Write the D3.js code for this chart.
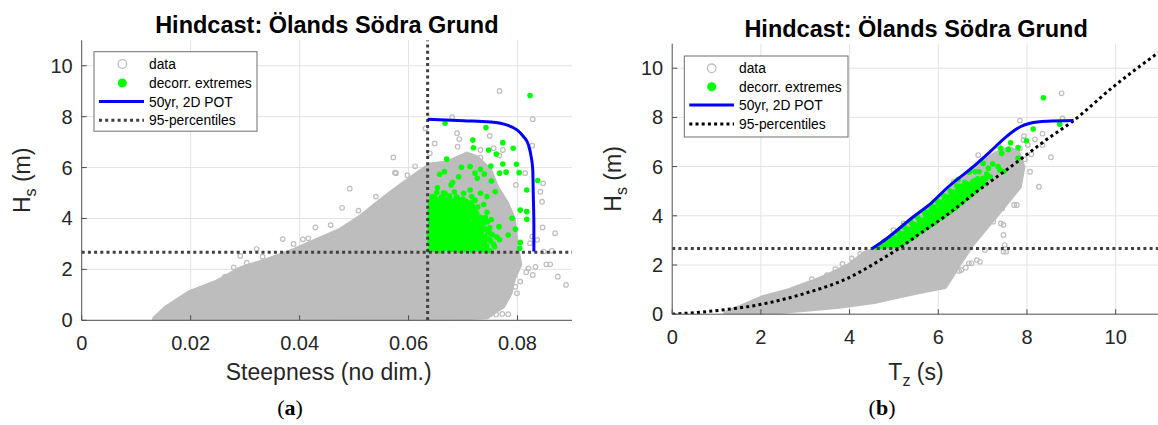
<!DOCTYPE html>
<html>
<head>
<meta charset="utf-8">
<script src="https://cdn.jsdelivr.net/npm/d3@7"></script>
<style>
  html, body { margin: 0; padding: 0; background: #fff; }
  svg { display: block; font-family: "Liberation Sans", Arial, sans-serif; }
</style>
</head>
<body>
<svg id="fig" width="1158" height="425"></svg>
<script>
// ---------- shared ----------
const titleText = "Hindcast: Ölands Södra Grund";
const legendLabels = ["data", "decorr. extremes", "50yr, 2D POT", "95-percentiles"];
const hsTicks = [0, 2, 4, 6, 8, 10];
const hs95 = 2.67;

// ---------- panel (a): steepness vs Hs ----------
const steepTicks = [0, 0.02, 0.04, 0.06, 0.08];
const steepTickLabels = ["0", "0.02", "0.04", "0.06", "0.08"];
const steep95 = 0.0635;

// outline of the dense part of the hindcast cloud
const cloudA = [[0.0133,0.0],[0.0134,0.10],[0.0156,0.53],[0.0199,1.12],[0.0248,1.52],[0.0291,2.04],
  [0.0340,2.37],[0.0389,2.76],[0.0432,3.16],[0.0474,3.55],[0.0511,4.07],[0.0548,4.70],[0.0585,5.30],
  [0.0621,5.85],[0.0640,6.12],[0.0670,6.20],[0.0707,6.55],[0.0726,6.40],[0.0750,5.90],[0.0762,5.25],
  [0.0781,4.60],[0.0793,4.00],[0.0799,2.90],[0.0805,2.20],[0.0793,1.60],[0.0787,1.06],[0.0774,0.55],
  [0.0756,0.30],[0.0745,0.12],[0.0680,0.06],[0.0600,0.02],[0.0200,0.0]];

// individual hindcast states outside the dense cloud
const dataA = [[0.0767,9.01],[0.0828,7.90],[0.0680,7.98],[0.0631,7.54],[0.0689,7.35],[0.0693,7.12],
  [0.0749,7.24],[0.0648,6.95],[0.0690,6.82],[0.0827,6.86],[0.0572,6.40],[0.0639,6.56],[0.0756,6.76],
  [0.0773,6.69],[0.0814,5.78],[0.0847,5.38],[0.0842,5.05],[0.0845,4.66],[0.0797,5.32],[0.0817,4.27],
  [0.0577,5.78],[0.0846,3.65],[0.0836,3.16],[0.0869,3.42],[0.0848,2.70],[0.0863,2.73],[0.0833,2.10],
  [0.0853,2.20],[0.0860,2.20],[0.0874,1.71],[0.0889,1.39],[0.0828,1.78],[0.0816,1.89],[0.0820,2.04],
  [0.0805,1.52],[0.0799,1.06],[0.0781,0.93],[0.0796,1.32],[0.0767,6.47],[0.0732,6.39],[0.0732,6.69],
  [0.0823,3.03],[0.0827,3.29],[0.0492,5.17],[0.0478,4.42],[0.0508,4.31],[0.0540,4.86],[0.0429,3.65],
  [0.0406,3.18],[0.0369,3.19],[0.0416,3.22],[0.0457,3.74],[0.0321,2.80],[0.0291,2.53],[0.0279,2.08],
  [0.0303,2.26],[0.0389,3.00],[0.0332,2.50],[0.0263,1.71],[0.0575,5.80],[0.0598,5.70],[0.0612,6.05],
  [0.0660,0.24],[0.0672,0.27],[0.0684,0.23],[0.0695,0.26],[0.0707,0.22],[0.0718,0.25],[0.0729,0.28],
  [0.0740,0.24],[0.0751,0.26],[0.0761,0.23],[0.0772,0.25],[0.0783,0.24],[0.0135,0.05],[0.0148,0.30]];

// decorrelated extremes above both 95-percentiles
const extA = [[0.0823,8.83],[0.0667,7.74],[0.0742,7.57],[0.0718,7.08],[0.0773,6.98],[0.0719,6.78],
  [0.0747,6.69],[0.0792,6.76],[0.0761,6.53],[0.0670,6.33],[0.0798,6.13],[0.0697,6.01],[0.0713,6.04],
  [0.0751,6.06],[0.0773,6.14],[0.0732,5.93],[0.0722,5.78],[0.0739,5.75],[0.0767,5.78],[0.0779,5.82],
  [0.0803,5.80],[0.0837,5.49],[0.0657,5.74],[0.0666,5.84],[0.0692,5.64],[0.0726,5.58],[0.0752,5.47],
  [0.0681,5.41],[0.0678,5.32],[0.0713,5.12],[0.0653,5.21],[0.0817,5.12],[0.0759,5.05],[0.0664,5.01],
  [0.0701,4.99],[0.0732,4.99],[0.0744,4.86],[0.0643,4.86],[0.0805,4.33],[0.0817,4.27],[0.0790,4.01],
  [0.0817,3.97],[0.0796,3.58],[0.0805,3.06],[0.0804,2.83],[0.0767,3.16],[0.0783,3.35],[0.0756,2.99],
  [0.0638,2.74],[0.0646,2.78],[0.0657,2.73],[0.0664,2.80],[0.0675,2.75],[0.0683,2.79],[0.0694,2.73],
  [0.0702,2.77],[0.0716,2.74],[0.0724,2.81],[0.0737,2.76],[0.0749,2.73],
  [0.0641,2.92],[0.0652,2.88],[0.0661,2.95],[0.0670,2.90],[0.0679,2.97],[0.0689,2.89],[0.0698,2.94],
  [0.0709,2.91],[0.0720,2.96],[0.0731,2.88],[0.0744,2.93],[0.0758,2.89],
  [0.0639,3.07],[0.0648,3.03],[0.0659,3.10],[0.0667,3.04],[0.0676,3.08],[0.0687,3.02],[0.0695,3.09],
  [0.0705,3.05],[0.0713,3.11],[0.0727,3.03],[0.0736,3.07],[0.0751,3.12],
  [0.0643,3.22],[0.0651,3.18],[0.0662,3.24],[0.0673,3.19],[0.0681,3.23],[0.0692,3.17],[0.0701,3.25],
  [0.0711,3.20],[0.0722,3.16],[0.0733,3.24],[0.0747,3.19],[0.0762,3.27],
  [0.0638,3.37],[0.0647,3.33],[0.0656,3.39],[0.0668,3.34],[0.0677,3.38],[0.0686,3.32],[0.0697,3.36],
  [0.0707,3.40],[0.0716,3.33],[0.0728,3.37],[0.0740,3.31],[0.0754,3.36],
  [0.0641,3.52],[0.0653,3.48],[0.0661,3.54],[0.0671,3.49],[0.0683,3.53],[0.0691,3.47],[0.0703,3.55],
  [0.0712,3.50],[0.0724,3.46],[0.0735,3.54],[0.0745,3.50],
  [0.0639,3.66],[0.0649,3.63],[0.0658,3.69],[0.0667,3.64],[0.0678,3.68],[0.0688,3.62],[0.0697,3.67],
  [0.0708,3.71],[0.0719,3.64],[0.0731,3.69],[0.0749,3.63],[0.0766,3.68],
  [0.0642,3.82],[0.0652,3.78],[0.0663,3.84],[0.0672,3.79],[0.0684,3.83],[0.0694,3.77],[0.0704,3.85],
  [0.0715,3.80],[0.0726,3.76],[0.0739,3.83],
  [0.0638,3.96],[0.0647,3.93],[0.0657,3.99],[0.0668,3.94],[0.0679,3.98],[0.0689,3.92],[0.0700,3.97],
  [0.0711,4.01],[0.0723,3.94],[0.0735,3.99],[0.0752,3.95],
  [0.0641,4.12],[0.0651,4.08],[0.0662,4.14],[0.0674,4.09],[0.0685,4.13],[0.0696,4.07],[0.0708,4.15],
  [0.0719,4.10],[0.0731,4.06],
  [0.0639,4.27],[0.0649,4.23],[0.0659,4.29],[0.0669,4.24],[0.0681,4.28],[0.0692,4.22],[0.0704,4.26],
  [0.0716,4.30],[0.0744,4.24],
  [0.0642,4.42],[0.0654,4.38],[0.0665,4.44],[0.0677,4.39],[0.0688,4.43],[0.0700,4.37],[0.0712,4.41],
  [0.0727,4.45],
  [0.0640,4.56],[0.0650,4.53],[0.0661,4.59],[0.0673,4.54],[0.0685,4.58],[0.0697,4.52],[0.0709,4.57],
  [0.0738,4.55],
  [0.0643,4.72],[0.0656,4.68],[0.0668,4.74],[0.0681,4.69],[0.0693,4.73],[0.0706,4.67],[0.0722,4.71],
  [0.0647,4.87],[0.0660,4.83],[0.0675,4.88],[0.0689,4.84],[0.0716,4.86],
  [0.0652,5.02],[0.0667,4.98],[0.0684,5.04],
  [0.0642,2.83],[0.0652,2.85],[0.0660,2.81],[0.0669,2.86],[0.0679,2.82],[0.0688,2.84],[0.0698,2.80],
  [0.0710,2.85],[0.0720,2.82],[0.0730,2.84],[0.0742,2.80],
  [0.0644,2.99],[0.0654,3.01],[0.0664,2.97],[0.0673,3.00],[0.0683,2.98],[0.0692,3.02],[0.0702,2.98],
  [0.0716,3.01],[0.0724,2.97],[0.0739,3.00],
  [0.0641,3.14],[0.0655,3.15],[0.0664,3.13],[0.0676,3.16],[0.0686,3.12],[0.0697,3.15],[0.0706,3.13],
  [0.0717,3.16],[0.0729,3.12],[0.0741,3.15],
  [0.0640,3.29],[0.0650,3.28],[0.0660,3.31],[0.0670,3.27],[0.0679,3.30],[0.0690,3.28],[0.0702,3.31],
  [0.0712,3.27],[0.0724,3.30],[0.0735,3.28],
  [0.0643,3.44],[0.0652,3.45],[0.0663,3.43],[0.0674,3.46],[0.0682,3.42],[0.0693,3.45],[0.0702,3.43],
  [0.0713,3.46],[0.0722,3.42],[0.0733,3.45],[0.0749,3.43],
  [0.0645,3.58],[0.0656,3.60],[0.0666,3.57],[0.0676,3.59],[0.0686,3.58],[0.0695,3.61],[0.0707,3.57],
  [0.0717,3.60],[0.0729,3.56],[0.0740,3.59],
  [0.0644,3.73],[0.0654,3.74],[0.0663,3.72],[0.0673,3.75],[0.0683,3.71],[0.0692,3.74],[0.0702,3.72],
  [0.0713,3.75],[0.0724,3.71],[0.0735,3.74],
  [0.0640,3.88],[0.0650,3.89],[0.0660,3.87],[0.0671,3.90],[0.0681,3.86],[0.0691,3.89],[0.0699,3.87],
  [0.0710,3.90],[0.0721,3.86],[0.0732,3.89],[0.0745,3.87],
  [0.0644,4.03],[0.0654,4.04],[0.0664,4.02],[0.0673,4.05],[0.0684,4.01],[0.0694,4.04],[0.0705,4.02],
  [0.0716,4.05],[0.0727,4.01],[0.0741,4.04],
  [0.0644,4.18],[0.0656,4.19],[0.0667,4.17],[0.0679,4.20],[0.0690,4.16],[0.0702,4.19],[0.0713,4.17],
  [0.0725,4.20],
  [0.0645,4.34],[0.0655,4.35],[0.0664,4.33],[0.0675,4.36],[0.0686,4.32],[0.0697,4.35],[0.0710,4.33],
  [0.0722,4.36],
  [0.0646,4.48],[0.0659,4.49],[0.0670,4.47],[0.0682,4.50],[0.0694,4.46],[0.0706,4.49],[0.0718,4.47],
  [0.0645,4.63],[0.0655,4.64],[0.0667,4.62],[0.0679,4.65],[0.0691,4.61],[0.0703,4.64],[0.0715,4.62],
  [0.0650,4.78],[0.0662,4.79],[0.0675,4.77],[0.0687,4.80],[0.0700,4.76]];

// 50-year environmental contour (steepness, Hs)
const contourA = [[0.0635,7.90],[0.0701,7.84],[0.0750,7.79],[0.0781,7.67],[0.0799,7.48],[0.0811,7.22],
  [0.0820,6.89],[0.0825,6.43],[0.0828,5.91],[0.0829,4.86],[0.0830,3.82],[0.0830,2.70]];

// ---------- panel (b): Tz vs Hs ----------
const tzTicks = [0, 2, 4, 6, 8, 10];

const cloudB = [[1.20,0.05],[1.60,0.35],[2.02,0.68],[2.63,0.98],[3.15,1.32],[3.53,1.60],[3.98,2.00],
  [4.35,2.50],[4.55,2.62],[5.00,3.22],[5.50,3.88],[6.00,4.62],[6.50,5.45],[6.90,6.05],[7.30,6.55],
  [7.60,6.75],[7.80,6.60],[7.92,6.00],[7.84,5.18],[7.54,4.51],[7.17,3.70],[6.79,2.88],[6.49,2.07],
  [6.26,1.40],[6.15,1.10],[5.44,0.85],[4.60,0.51],[3.77,0.30],[2.51,0.10],[1.43,0.02]];

const dataB = [[8.78,8.98],[7.84,7.87],[8.80,7.96],[8.35,7.34],[8.18,7.11],[7.93,7.24],[8.35,6.88],
  [8.54,6.38],[8.02,6.88],[8.07,5.79],[8.27,5.18],[7.71,4.44],[7.47,3.63],[7.41,3.69],[7.24,3.76],
  [7.47,3.22],[7.50,2.81],[7.47,2.54],[7.05,2.61],[6.87,2.20],[6.75,2.07],[6.62,1.89],[6.47,1.76],
  [7.84,6.74],[7.92,7.08],[7.77,4.44],[7.44,4.30],[6.69,2.07],[6.94,2.13],[6.52,1.80],[6.77,3.29],
  [7.53,2.54],[3.15,1.42],[3.49,1.59],[3.68,1.83],[3.84,2.04],[4.05,2.27],[4.24,2.45],[4.77,2.95],
  [4.99,3.42],[5.22,3.69],[6.35,5.39],[6.90,6.47],[7.36,6.84],[8.10,6.50],[7.95,6.30]];

const extB = [[8.37,8.80],[8.14,7.53],[8.74,7.72],[7.99,7.05],[7.63,6.97],[7.80,6.77],[7.41,6.74],
  [7.58,6.70],[7.43,6.54],[7.80,6.34],[7.01,6.13],[7.23,6.11],[7.13,5.93],[7.35,6.00],[7.47,5.79],
  [6.83,5.79],[6.92,5.79],[7.09,5.70],[7.01,5.52],[6.83,5.43],[7.17,5.59],[7.39,5.86],[6.94,5.25],
  [6.70,5.77],[6.45,5.48],[6.56,5.18],
  [4.62,2.71],[4.68,2.79],[4.78,2.73],[4.83,2.86],[4.80,2.97],[4.93,2.74],[4.97,2.88],[4.94,3.01],
  [4.99,3.13],[5.08,2.76],[5.12,2.91],[5.09,3.05],[5.13,3.19],[5.10,3.34],
  [5.23,2.94],[5.27,3.09],[5.24,3.22],[5.28,3.37],[5.25,3.51],[5.22,3.60],
  [5.38,3.11],[5.42,3.26],[5.39,3.41],[5.43,3.56],[5.40,3.70],[5.37,3.80],
  [5.53,3.29],[5.57,3.44],[5.54,3.58],[5.58,3.74],[5.55,3.89],[5.52,3.98],
  [5.68,3.46],[5.72,3.61],[5.69,3.77],[5.73,3.92],[5.70,4.07],[5.67,4.18],
  [5.83,3.64],[5.87,3.79],[5.84,3.95],[5.88,4.11],[5.85,4.26],[5.82,4.40],
  [5.98,3.83],[6.02,3.98],[5.99,4.14],[6.03,4.31],[6.00,4.47],[5.97,4.62],
  [6.13,4.01],[6.17,4.17],[6.14,4.34],[6.18,4.51],[6.15,4.67],[6.12,4.82],
  [6.28,4.21],[6.32,4.37],[6.29,4.54],[6.33,4.71],[6.30,4.88],[6.27,5.01],
  [6.43,4.41],[6.47,4.58],[6.44,4.75],[6.48,4.93],[6.45,5.08],[6.42,5.22],
  [6.58,4.63],[6.62,4.81],[6.59,4.98],[6.63,5.16],[6.60,5.35],
  [6.73,4.86],[6.77,5.03],[6.74,5.21],[6.78,5.39],
  [6.88,5.11],[6.92,5.29],[6.89,5.50],[7.03,5.31],[7.07,5.51],
  [4.72,2.75],[4.88,2.80],[4.90,2.93],[5.03,2.82],[5.05,2.97],[5.04,3.10],[5.18,2.84],[5.19,3.00],
  [5.20,3.14],[5.17,3.28],[5.33,3.02],[5.34,3.16],[5.32,3.31],[5.35,3.45],[5.48,3.18],[5.47,3.33],
  [5.49,3.49],[5.46,3.64],[5.62,3.37],[5.64,3.52],[5.61,3.67],[5.63,3.83],[5.77,3.55],[5.79,3.70],
  [5.76,3.86],[5.78,4.01],[5.75,4.15],[5.92,3.73],[5.94,3.89],[5.91,4.05],[5.93,4.21],[5.90,4.36],
  [6.07,3.92],[6.09,4.08],[6.06,4.24],[6.08,4.41],[6.05,4.56],[6.22,4.11],[6.24,4.27],[6.21,4.44],
  [6.23,4.61],[6.20,4.77],[6.37,4.31],[6.39,4.48],[6.36,4.65],[6.38,4.82],[6.35,4.97],[6.52,4.52],
  [6.54,4.70],[6.51,4.87],[6.53,5.05],[6.50,5.20],[6.67,4.75],[6.69,4.92],[6.66,5.10],[6.68,5.28],
  [6.82,4.98],[6.84,5.16],[6.81,5.34],[6.97,5.20],[6.99,5.40]];

const contourB = [[4.51,2.67],[4.69,2.88],[5.44,3.96],[5.86,4.55],[6.19,5.12],[6.79,6.00],[7.17,6.61],
  [7.55,7.24],[7.85,7.62],[8.07,7.76],[8.45,7.84],[9.05,7.87]];

// 95-percentile Hs as a function of Tz
const p95B = [[0,0],[1.12,0.17],[2.03,0.41],[3.00,0.85],[3.98,1.48],[4.69,2.20],[5.11,2.67],[5.44,3.09],
  [6.19,4.03],[6.94,5.08],[7.69,6.07],[8.45,7.11],[9.05,7.87],[9.95,9.25],[10.96,10.63]];

// ---------- drawing ----------
const svg = d3.select("#fig");
svg.append("rect").attr("width", 1158).attr("height", 425).attr("fill", "#fff");

const AXIS = "#4d4d4d", TICKTXT = "#262626", GRID = "#e3e3e3";
const GRAY = "#bdbdbd", GREEN = "#00ff00", BLUE = "#0000ff";
const DOTS = "3,3.2";

function panel(cfg) {
  const g = svg.append("g");
  const x = cfg.x, y = cfg.y;
  const [x0, x1] = x.range(), [y0, y1] = y.range();

  const clipId = "clip" + cfg.id;
  svg.append("defs").append("clipPath").attr("id", clipId)
    .append("rect").attr("x", x0).attr("y", y1).attr("width", x1 - x0).attr("height", y0 - y1);

  // grid
  g.append("g").selectAll("line").data(cfg.xTicks.filter(d => d > 0)).join("line")
    .attr("x1", d => x(d)).attr("x2", d => x(d)).attr("y1", y0).attr("y2", y1)
    .attr("stroke", GRID).attr("stroke-width", 1);
  g.append("g").selectAll("line").data(hsTicks.filter(d => d > 0)).join("line")
    .attr("x1", x0).attr("x2", x1).attr("y1", d => y(d)).attr("y2", d => y(d))
    .attr("stroke", GRID).attr("stroke-width", 1);

  const plot = g.append("g").attr("clip-path", `url(#${clipId})`);

  // dense cloud
  plot.append("path").datum(cfg.cloud)
    .attr("d", d3.line().x(d => x(d[0])).y(d => y(d[1])).curve(d3.curveLinearClosed))
    .attr("fill", GRAY).attr("stroke", GRAY).attr("stroke-width", 4).attr("stroke-linejoin", "round");

  // sparse data
  plot.append("g").selectAll("circle").data(cfg.data).join("circle")
    .attr("cx", d => x(d[0])).attr("cy", d => y(d[1])).attr("r", 2.3)
    .attr("fill", "none").attr("stroke", GRAY).attr("stroke-width", 1.2);

  // extremes
  plot.append("g").selectAll("circle").data(cfg.ext).join("circle")
    .attr("cx", d => x(d[0])).attr("cy", d => y(d[1])).attr("r", 2.8)
    .attr("fill", GREEN);

  // 95-percentile lines
  cfg.drawP95(plot);

  // 50-yr contour
  plot.append("path").datum(cfg.contour)
    .attr("d", d3.line().x(d => x(d[0])).y(d => y(d[1])).curve(d3.curveMonotoneX))
    .attr("fill", "none").attr("stroke", BLUE).attr("stroke-width", 3);

  // axes lines
  g.append("line").attr("x1", x0).attr("x2", x0).attr("y1", y0).attr("y2", y1)
    .attr("stroke", AXIS).attr("stroke-width", 1);
  g.append("line").attr("x1", x0).attr("x2", Math.min(x1, 1158)).attr("y1", y0).attr("y2", y0)
    .attr("stroke", AXIS).attr("stroke-width", 1);

  // ticks (inward)
  g.append("g").selectAll("line").data(cfg.xTicks).join("line")
    .attr("x1", d => x(d)).attr("x2", d => x(d)).attr("y1", y0).attr("y2", y0 - 5)
    .attr("stroke", AXIS);
  g.append("g").selectAll("line").data(hsTicks).join("line")
    .attr("x1", x0).attr("x2", x0 + 5).attr("y1", d => y(d)).attr("y2", d => y(d))
    .attr("stroke", AXIS);

  g.append("g").selectAll("text").data(cfg.xTicks).join("text")
    .attr("x", d => x(d)).attr("y", y0 + 29.5).attr("text-anchor", "middle")
    .attr("font-size", 20).attr("fill", TICKTXT).text((d, i) => cfg.xTickLabels[i]);
  g.append("g").selectAll("text").data(hsTicks).join("text")
    .attr("x", x0 - 9).attr("y", d => y(d) + 7).attr("text-anchor", "end")
    .attr("font-size", 20).attr("fill", TICKTXT).text(d => d);

  const cx = (x0 + x1) / 2;
  // title
  g.append("text").attr("x", cx).attr("y", y1 - 7).attr("text-anchor", "middle")
    .attr("font-size", 23.5).attr("font-weight", "bold").attr("fill", "#000").text(titleText);

  // x label
  const xl = g.append("text").attr("x", cfg.xLabelX).attr("y", 380).attr("text-anchor", "middle")
    .attr("font-size", 23).attr("fill", TICKTXT);
  cfg.xLabel(xl);

  // y label
  const yl = g.append("text")
    .attr("transform", `translate(${x0 - 51.5},${(y0 + y1) / 2}) rotate(-90)`)
    .attr("text-anchor", "middle").attr("font-size", 23).attr("fill", TICKTXT);
  yl.append("tspan").text("H");
  yl.append("tspan").attr("font-size", 16).attr("dy", 6).text("s");
  yl.append("tspan").attr("dy", -6).text(" (m)");

  // sub-figure tag
  const tag = g.append("text").attr("x", cfg.tagX).attr("y", 415).attr("text-anchor", "middle")
    .attr("font-family", "'Liberation Serif', 'DejaVu Serif', serif")
    .attr("font-size", 22).attr("fill", "#000");
  tag.append("tspan").text("(");
  tag.append("tspan").attr("font-weight", "bold").text(cfg.tag);
  tag.append("tspan").text(")");

  // legend
  const L = cfg.legend;
  const lg = g.append("g");
  lg.append("rect").attr("x", L.x).attr("y", L.y).attr("width", L.w).attr("height", L.h)
    .attr("fill", "#fff").attr("stroke", "#6e6e6e").attr("stroke-width", 1);
  legendLabels.forEach((lab, i) => {
    lg.append("text").attr("x", L.textX).attr("y", L.rowY[i] + 5).attr("font-size", 13.8)
      .attr("fill", "#000").text(lab);
  });
  lg.append("circle").attr("cx", L.symX).attr("cy", L.rowY[0]).attr("r", 4.3)
    .attr("fill", "none").attr("stroke", GRAY).attr("stroke-width", 1.3);
  lg.append("circle").attr("cx", L.symX).attr("cy", L.rowY[1]).attr("r", 4.5).attr("fill", GREEN);
  lg.append("line").attr("x1", L.lx0).attr("x2", L.lx1).attr("y1", L.rowY[2]).attr("y2", L.rowY[2])
    .attr("stroke", BLUE).attr("stroke-width", 3);
  lg.append("line").attr("x1", L.lx0).attr("x2", L.lx1).attr("y1", L.rowY[3]).attr("y2", L.rowY[3])
    .attr("stroke", cfg.p95Color).attr("stroke-width", 3).attr("stroke-dasharray", DOTS);
}

// panel (a)
const xA = d3.scaleLinear([0, 0.09], [81.7, 572]);
const yA = d3.scaleLinear([0, 11], [320.3, 40.3]);
panel({
  id: "A", x: xA, y: yA, xTicks: steepTicks, xTickLabels: steepTickLabels,
  cloud: cloudA, data: dataA, ext: extA, contour: contourA,
  p95Color: "#404040",
  drawP95: (p) => {
    p.append("line").attr("x1", xA(0)).attr("x2", xA(0.09)).attr("y1", yA(hs95)).attr("y2", yA(hs95))
      .attr("stroke", "#404040").attr("stroke-width", 3).attr("stroke-dasharray", DOTS);
    p.append("line").attr("x1", xA(steep95)).attr("x2", xA(steep95)).attr("y1", yA(0)).attr("y2", yA(11))
      .attr("stroke", "#404040").attr("stroke-width", 3).attr("stroke-dasharray", DOTS);
  },
  xLabelX: 328.7, xLabel: t => t.text("Steepness (no dim.)"),
  tag: "a", tagX: 290,
  legend: { x: 94, y: 51.7, w: 163, h: 79.5, rowY: [64, 83, 101.5, 120.3], symX: 122.3, lx0: 99, lx1: 144, textX: 149 }
});

// panel (b)
const xB = d3.scaleLinear([0, 11], [672.2, 1160]);
const yB = d3.scaleLinear([0, 11], [314.2, 43.6]);
panel({
  id: "B", x: xB, y: yB, xTicks: tzTicks, xTickLabels: tzTicks.map(String),
  cloud: cloudB, data: dataB, ext: extB, contour: contourB,
  p95Color: "#000",
  drawP95: (p) => {
    p.append("line").attr("x1", xB(0)).attr("x2", xB(11)).attr("y1", yB(hs95)).attr("y2", yB(hs95))
      .attr("stroke", "#404040").attr("stroke-width", 3).attr("stroke-dasharray", DOTS);
    p.append("path").datum(p95B)
      .attr("d", d3.line().x(d => xB(d[0])).y(d => yB(d[1])).curve(d3.curveMonotoneX))
      .attr("fill", "none").attr("stroke", "#000").attr("stroke-width", 3).attr("stroke-dasharray", DOTS);
  },
  xLabelX: 916,
  xLabel: t => { t.append("tspan").text("T"); t.append("tspan").attr("font-size", 16).attr("dy", 6).text("z");
                 t.append("tspan").attr("dy", -6).text(" (s)"); },
  tag: "b", tagX: 882,
  legend: { x: 684.3, y: 56, w: 163.7, h: 81, rowY: [68.3, 86.7, 105, 124], symX: 711.7, lx0: 689.3, lx1: 734, textX: 739 }
});
</script>
</body>
</html>
